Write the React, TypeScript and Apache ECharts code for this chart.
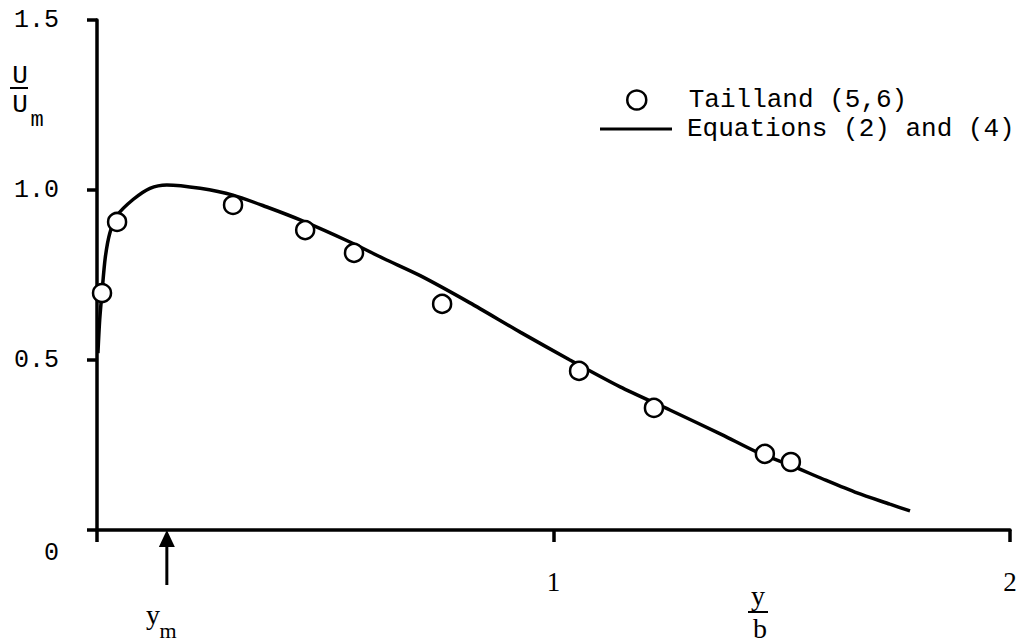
import React, { useEffect, useRef } from "react";
import * as echarts from "echarts";

// Measured profile (Tailland data) — x = y/b, y = U/Um
const pointsX = [0.011, 0.044, 0.298, 0.456, 0.563, 0.756, 1.056, 1.22, 1.463, 1.52];
const pointsY = [0.697, 0.906, 0.956, 0.882, 0.815, 0.665, 0.468, 0.359, 0.224, 0.2];

// Equations (2) and (4) curve
const curveX = [0.002, 0.006, 0.011, 0.018, 0.028, 0.044, 0.079, 0.116, 0.153, 0.226, 0.298, 0.372, 0.445, 0.554, 0.63, 0.708, 0.817, 0.927, 1.036, 1.146, 1.255, 1.371, 1.446, 1.52, 1.59, 1.665, 1.737, 1.781];
const curveY = [0.52, 0.62, 0.7, 0.8, 0.873, 0.925, 0.972, 1.005, 1.015, 1.005, 0.985, 0.95, 0.912, 0.847, 0.797, 0.748, 0.668, 0.582, 0.5, 0.421, 0.353, 0.279, 0.229, 0.19, 0.15, 0.109, 0.076, 0.056];

const xTicks = { min: 0, max: 2, interval: 1 };
const yTicks = { min: 0, max: 1.5, interval: 0.5 };
const ymPosition = 0.153;

const seriesNames = ["Tailland (5,6)", "Equations (2) and (4)"];

const MONO = "Liberation Mono";
const SERIF = "Liberation Serif";

export default function App() {
  const ref = useRef<HTMLDivElement>(null);

  useEffect(() => {
    document.body.style.margin = "0";
    const chart = echarts.init(ref.current!, null, { renderer: "svg" });
    const option: any = {
      animation: false,
      backgroundColor: "#fff",
      grid: { left: 97, right: 17, top: 20, bottom: 113, containLabel: false },
      legend: [
        {
          data: [
            {
              name: seriesNames[0],
              icon: "circle",
              itemStyle: { color: "#fff", borderColor: "#000", borderWidth: 2.5 },
            },
          ],
          left: 621,
          top: 82,
          itemWidth: 20,
          itemHeight: 19,
          textStyle: { fontFamily: MONO, fontSize: 26, color: "#000", padding: [0, 0, 0, 37] },
        },
        {
          data: [
            {
              name: seriesNames[1],
              icon: "rect",
              itemStyle: { color: "#000", borderWidth: 0 },
            },
          ],
          left: 595,
          top: 111,
          itemWidth: 72,
          itemHeight: 3,
          textStyle: { fontFamily: MONO, fontSize: 26, color: "#000", padding: [0, 0, 0, 10] },
        },
      ],
      xAxis: {
        type: "value",
        min: xTicks.min,
        max: xTicks.max,
        interval: xTicks.interval,
        splitLine: { show: false },
        axisLine: { show: true, lineStyle: { color: "#000", width: 3.5 } },
        axisTick: { show: true, length: 12, lineStyle: { color: "#000", width: 3.5 } },
        axisLabel: {
          margin: 38,
          fontFamily: SERIF,
          fontSize: 27,
          color: "#000",
          formatter: (v: number) => (v === 0 ? "" : String(v)),
        },
      },
      yAxis: {
        type: "value",
        min: yTicks.min,
        max: yTicks.max,
        interval: yTicks.interval,
        splitLine: { show: false },
        axisLine: { show: true, lineStyle: { color: "#000", width: 3.5 } },
        axisTick: { show: true, length: 10, lineStyle: { color: "#000", width: 3.5 } },
        axisLabel: {
          margin: 38,
          fontFamily: MONO,
          fontSize: 25,
          color: "#000",
          formatter: (v: number) => (v === 0 ? "{z|0}" : v.toFixed(1)),
          rich: { z: { fontFamily: MONO, fontSize: 25, color: "#000", padding: [46, 0, 0, 0] } },
        },
      },
      series: [
        {
          name: seriesNames[1],
          type: "line",
          data: curveX.map((x, i) => [x, curveY[i]]),
          smooth: 0.25,
          showSymbol: false,
          symbol: "none",
          lineStyle: { color: "#000", width: 3.5 },
          itemStyle: { color: "#000" },
          z: 2,
        },
        {
          name: seriesNames[0],
          type: "scatter",
          data: pointsX.map((x, i) => [x, pointsY[i]]),
          symbol: "circle",
          symbolSize: 18,
          itemStyle: { color: "#fff", borderColor: "#000", borderWidth: 2.5, opacity: 1 },
          z: 3,
        },
      ],
    };
    chart.setOption(option);

    const p = chart.convertToPixel({ xAxisIndex: 0, yAxisIndex: 0 }, [ymPosition, 0]) as number[];
    const ax = p[0];
    const ay = p[1];
    chart.setOption({
      graphic: [
        // y-axis title U / Um
        { type: "text", x: 20, y: 76, style: { text: "U", fontFamily: MONO, fontSize: 26, fill: "#000", align: "center", verticalAlign: "middle" } },
        { type: "line", shape: { x1: 10, y1: 88, x2: 28, y2: 88 }, style: { stroke: "#000", lineWidth: 2 } },
        { type: "text", x: 20, y: 105, style: { text: "U", fontFamily: MONO, fontSize: 26, fill: "#000", align: "center", verticalAlign: "middle" } },
        { type: "text", x: 37, y: 120, style: { text: "m", fontFamily: MONO, fontSize: 22, fill: "#000", align: "center", verticalAlign: "middle" } },
        // x-axis title y / b
        { type: "text", x: 758, y: 595, style: { text: "y", fontFamily: SERIF, fontSize: 28, fill: "#000", align: "center", verticalAlign: "middle" } },
        { type: "line", shape: { x1: 748, y1: 612, x2: 768, y2: 612 }, style: { stroke: "#000", lineWidth: 2 } },
        { type: "text", x: 760, y: 628, style: { text: "b", fontFamily: SERIF, fontSize: 28, fill: "#000", align: "center", verticalAlign: "middle" } },
        // arrow marking y_m
        { type: "line", shape: { x1: ax, y1: ay + 55, x2: ax, y2: ay + 10 }, style: { stroke: "#000", lineWidth: 3 } },
        { type: "polygon", shape: { points: [[ax, ay], [ax - 8, ay + 17], [ax + 8, ay + 17]] }, style: { fill: "#000" } },
        { type: "text", x: 153, y: 614, style: { text: "y", fontFamily: SERIF, fontSize: 28, fill: "#000", align: "center", verticalAlign: "middle" } },
        { type: "text", x: 168, y: 630, style: { text: "m", fontFamily: SERIF, fontSize: 22, fill: "#000", align: "center", verticalAlign: "middle" } },
      ],
    });

    return () => chart.dispose();
  }, []);

  return <div ref={ref} style={{ width: 1027, height: 643 }} />;
}
